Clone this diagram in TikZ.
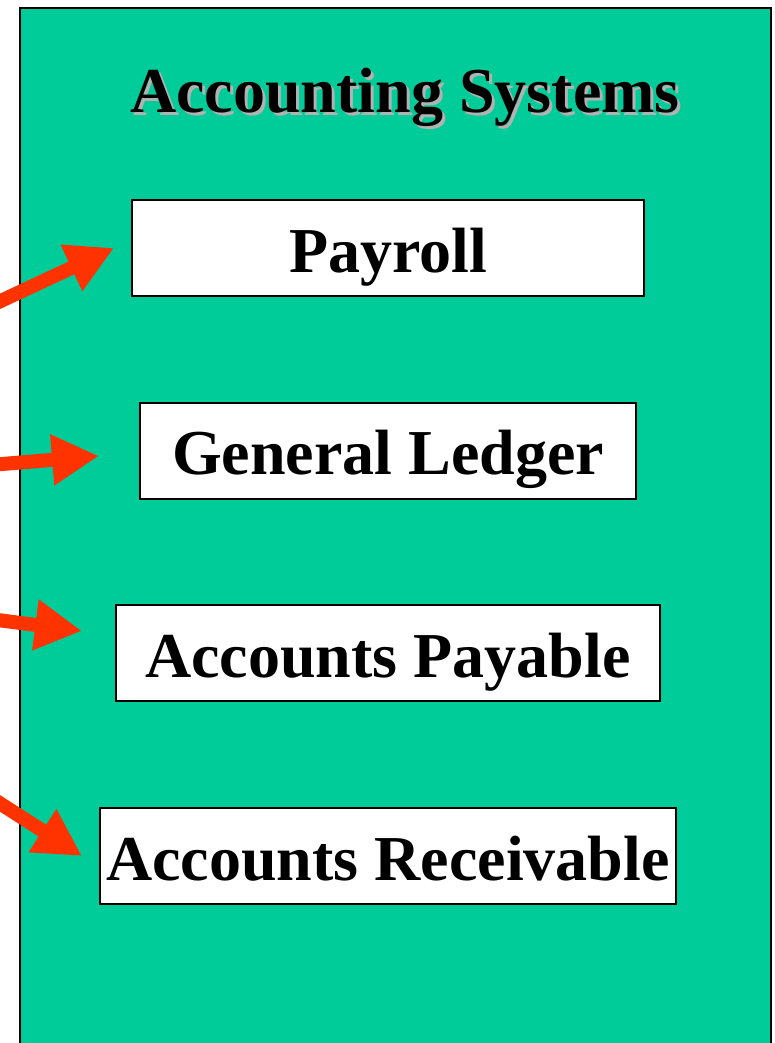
\documentclass[tikz,border=0pt]{standalone}
\usepackage{fontspec}
\setmainfont{Liberation Serif}
\usetikzlibrary{arrows.meta,positioning}
\definecolor{panelcolor}{RGB}{0,204,153}
\definecolor{arrowcolor}{RGB}{255,51,0}
\definecolor{shadecolor}{RGB}{178,178,178}

\begin{document}
\begin{tikzpicture}[%
    x=1pt, y=-1pt,              % work in pixels of the slide, top-down
    font=\fontsize{64}{70}\selectfont\bfseries,
    ]
\tikzset{
  sysbox/.style={draw, line width=2pt, fill=white, inner sep=0pt, minimum height=96pt,
    text height=48pt, text depth=0pt},
  feed/.style={arrowcolor, line width=14pt, -{Triangle[length=47pt,width=48pt]}},
}
\useasboundingbox (0,0) rectangle (775,1043);
\clip (0,0) rectangle (775,1043);

% panel
\draw [fill=panelcolor, line width=2.5pt] (20,8) rectangle (771,1070);

% title with its shadow
\node [shadecolor, anchor=base] (ttlshade) at (408,116) {Accounting Systems};
\node [anchor=base] (ttl) at (405,113) {Accounting Systems};

\node [sysbox, minimum width=512pt] (pay) at (388,248) {Payroll};
\node [sysbox, minimum width=496pt] (gl) at (388,450.5) {General Ledger};
\node [sysbox, minimum width=544pt] (ap) at (388,653) {Accounts Payable};
\node [sysbox, minimum width=576pt] (ar) at (388,856) {Accounts Receivable};

% loose ends of the arrows
\coordinate (src1) at (-10,306);
\coordinate (src2) at (-10,465);
\coordinate (src3) at (-10,619);
\coordinate (src4) at (-10,797);
\coordinate (tip1) at ([xshift=-17pt]pay.west);
\coordinate (tip2) at ([shift={(-40,5.5)}]gl.west);
\coordinate (tip3) at ([shift={(-33,-22)}]ap.west);
\coordinate (tip4) at ([xshift=-17pt]ar.west);

%connect
\draw [feed] (src1) -- (tip1);
\draw [feed] (src2) -- (tip2);
\draw [feed] (src3) -- (tip3);
\draw [feed] (src4) -- (tip4);

\end{tikzpicture}
\end{document}
